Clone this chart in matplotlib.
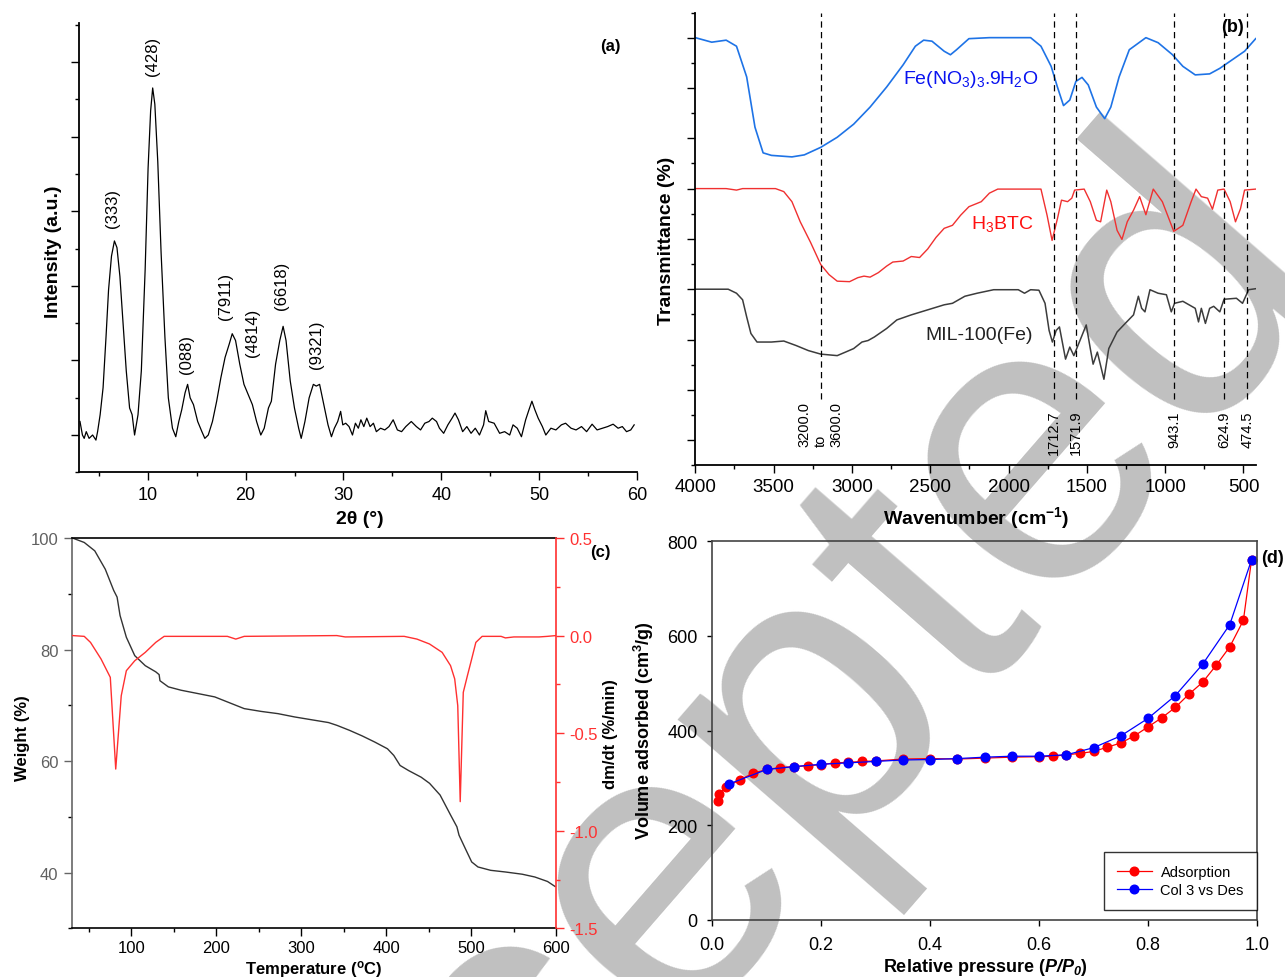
"""Four-panel characterisation figure for MIL-100(Fe): XRD, FTIR, TGA/DTG and N2 isotherm."""

import matplotlib

matplotlib.use("Agg")
import matplotlib.pyplot as plt
from matplotlib.ticker import MultipleLocator, NullFormatter

FIG_W, FIG_H = 1285, 978

# (a) XRD pattern
xrd_two_theta = [
    3.07, 3.32, 3.5, 3.71, 4.0, 4.36, 4.7, 4.87, 5.13, 5.43, 5.73, 5.99, 6.29, 6.59, 6.85,
    7.15, 7.45, 7.8, 8.14, 8.4, 8.65, 9.0, 9.34, 9.73, 10.03, 10.29, 10.5, 10.72, 11.02,
    11.36, 11.75, 12.1, 12.52, 12.86, 13.17, 13.47, 13.81, 14.07, 14.33, 14.67, 15.1, 15.53,
    15.83, 16.18, 16.61, 17.04, 17.47, 17.9, 18.33, 18.63, 18.97, 19.4, 19.83, 20.26, 20.69,
    21.12, 21.55, 21.9, 22.33, 22.63, 23.06, 23.49, 23.83, 24.13, 24.56, 24.99, 25.42, 25.68,
    26.06, 26.49, 26.92, 27.22, 27.56, 27.99, 28.42, 28.77, 29.07, 29.41, 29.71, 29.93, 30.23,
    30.57, 30.92, 31.22, 31.52, 31.78, 32.08, 32.38, 32.72, 33.06, 33.36, 33.79, 34.22, 34.65,
    35.08, 35.51, 35.94, 36.37, 36.93, 37.45, 37.88, 38.31, 38.74, 39.08, 39.51, 39.81, 40.24,
    40.67, 41.1, 41.4, 41.75, 42.18, 42.61, 43.04, 43.47, 43.9, 44.32, 44.54, 44.84, 45.4,
    45.96, 46.47, 46.99, 47.33, 47.76, 48.19, 48.62, 48.96, 49.26, 49.56, 49.9, 50.33, 50.68,
    51.2, 51.71, 52.27, 52.7, 53.26, 53.77, 54.33, 54.85, 55.41, 55.92, 56.48, 57.0, 57.56,
    58.07, 58.5, 58.93, 59.36, 59.71,
]
xrd_intensity = [
    181, 0, -45, 45, -45, 0, -68, 45, 272, 634, 1313, 1946, 2399, 2602, 2512,
    2127, 1539, 860, 362, 272, 0, 272, 860, 2218, 3576, 4345, 4653, 4435, 3666,
    2444, 1313, 498, 91, -23, 181, 339, 566, 679, 498, 407, 181, 45,
    -45, 0, 181, 453, 769, 1041, 1222, 1358, 1267, 950, 679, 543, 407,
    181, 0, 91, 362, 453, 950, 1267, 1457, 1267, 724, 362, 91, -45,
    181, 498, 679, 656, 679, 407, 136, -23, 91, 181, 317, 136, 158,
    113, 0, 158, 91, 204, 113, 226, 113, 158, 45, 91, 68, 113,
    204, 68, 45, 113, 181, 113, 68, 158, 181, 226, 181, 91, 23,
    136, 226, 294, 204, 45, 113, 23, 91, 0, 136, 326, 181, 158,
    23, 45, 0, 136, 91, -23, 204, 339, 453, 339, 226, 113, 0,
    91, 68, 136, 158, 91, 68, 113, 45, 145, 68, 91, 113, 145,
    91, 113, 45, 68, 136,
]
xrd_peak_names = ["(333)", "(428)", "(088)", "(7911)", "(4814)", "(6618)", "(9321)"]
xrd_peak_x = [6.42, 10.46, 13.93, 17.9, 20.7, 23.7, 27.2]
xrd_peak_y = [2785, 4833, 837, 1561, 1063, 1688, 905]

# (b) FTIR spectra
fe_wavenumber = [
    4000, 3895, 3803, 3737, 3672, 3619, 3567, 3514, 3383, 3304, 3199, 3094, 2989, 2884, 2778,
    2673, 2595, 2542, 2489, 2411, 2371, 2332, 2253, 2122, 1859, 1793, 1728, 1688, 1649, 1609,
    1570, 1531, 1491, 1439, 1386, 1347, 1294, 1229, 1123, 1045, 953, 887, 808, 716, 651, 572,
    493, 422,
]
fe_transmittance = [
    80.0, 79.1, 79.5, 78.3, 72.2, 62.2, 57.1, 56.6, 56.3, 56.7, 58.2, 60.2, 62.8, 66.2, 70.2,
    74.6, 78.3, 79.5, 79.3, 77.3, 76.6, 77.6, 79.8, 80.0, 80.0, 78.3, 74.3, 70.2, 66.5, 67.6,
    71.3, 72.1, 70.6, 66.2, 63.9, 66.2, 72.2, 77.6, 80.0, 79.0, 76.6, 74.3, 72.6, 72.8, 73.9,
    75.6, 77.3, 79.8,
]
btc_wavenumber = [
    4000, 3803, 3737, 3698, 3488, 3435, 3383, 3330, 3264, 3199, 3146, 3094, 3015, 2962, 2923,
    2884, 2831, 2778, 2739, 2673, 2621, 2568, 2516, 2463, 2411, 2358, 2306, 2253, 2174, 2122,
    2069, 1990, 1793, 1754, 1722, 1688, 1662, 1623, 1596, 1578, 1517, 1478, 1439, 1412, 1373,
    1347, 1307, 1276, 1242, 1202, 1163, 1123, 1076, 1018, 945, 887, 834, 803, 769, 729, 698,
    664, 624, 585, 551, 519, 493, 422,
]
btc_transmittance = [
    50.0, 50.0, 49.7, 50.0, 50.0, 49.4, 47.4, 43.4, 39.3, 34.9, 32.9, 31.6, 31.5, 32.3, 32.6,
    32.4, 33.3, 34.6, 35.4, 35.6, 36.5, 36.3, 38.0, 40.3, 42.1, 42.7, 44.7, 46.4, 47.4, 49.1,
    49.9, 49.9, 49.9, 44.7, 39.7, 44.0, 47.7, 47.4, 48.1, 49.7, 49.9, 47.4, 43.7, 43.4, 49.7,
    47.4, 41.7, 39.9, 43.4, 45.7, 48.4, 44.8, 49.9, 47.4, 41.5, 42.7, 47.4, 49.9, 48.4, 48.1,
    45.9, 49.7, 49.9, 47.4, 43.4, 46.0, 49.7, 49.9,
]
mil_wavenumber = [
    4000, 3790, 3737, 3698, 3672, 3645, 3606, 3514, 3435, 3356, 3278, 3199, 3094, 3041, 2989,
    2936, 2897, 2857, 2778, 2713, 2621, 2516, 2411, 2358, 2279, 2201, 2095, 1938, 1898, 1859,
    1806, 1767, 1741, 1720, 1696, 1675, 1636, 1609, 1583, 1544, 1504, 1478, 1460, 1433, 1412,
    1391, 1360, 1307, 1255, 1202, 1171, 1150, 1129, 1097, 1045, 992, 961, 940, 887, 808, 787,
    769, 743, 716, 690, 651, 624, 545, 506, 467, 422,
]
mil_transmittance = [
    30.0, 30.0, 29.2, 27.9, 24.5, 21.2, 19.5, 19.5, 19.7, 18.8, 17.8, 17.1, 16.8, 17.5, 18.2,
    19.5, 19.8, 20.5, 22.2, 23.9, 24.9, 25.9, 26.9, 27.2, 28.6, 29.2, 29.9, 29.9, 29.2, 29.9,
    29.8, 27.2, 21.8, 19.5, 21.8, 22.5, 16.1, 18.5, 16.8, 19.8, 22.9, 18.2, 15.1, 17.5, 14.8,
    12.1, 18.2, 21.5, 23.2, 24.9, 28.6, 26.2, 25.5, 29.9, 29.2, 28.9, 25.5, 27.2, 27.6, 26.2,
    23.5, 26.2, 23.2, 26.2, 26.6, 25.5, 28.0, 28.2, 27.2, 29.9, 30.1,
]
band_positions = [3200.0, 1712.7, 1571.9, 943.1, 624.9, 474.5]
band_labels = ["3200.0\nto\n3600.0", "1712.7", "1571.9", "943.1", "624.9", "474.5"]
band_label_y = [-1.15, -2.7, -2.7, -1.35, -1.35, -1.35]
band_line_bottom = 8.2

# (c) TGA / DTG
tga_temperature = [
    30.5, 44.4, 56.8, 69.2, 79.1, 83.1, 86.6, 94, 103.9, 116.3, 128.6, 132.6, 133.6, 143.5,
    158.4, 178.3, 198.1, 213, 232.8, 252.7, 272.5, 292.4, 312.2, 332.1, 342, 356.9, 371.8,
    386.6, 401.5, 409, 416.4, 426.3, 441.2, 451.1, 463.5, 475.9, 483.3, 485.8, 493.2, 500.7,
    508.1, 523, 540.4, 560.2, 575.1, 590, 598.9,
]
tga_weight = [
    100, 99.2, 97.7, 94.4, 90.6, 89.4, 86.1, 82.2, 78.9, 77.1, 76.0, 75.5, 74.4, 73.3,
    72.7, 72.1, 71.5, 70.6, 69.4, 68.9, 68.5, 67.9, 67.4, 66.9, 66.4, 65.5, 64.5,
    63.4, 62.2, 61.0, 59.2, 58.3, 57.1, 56.0, 53.9, 50.3, 48.2, 46.7, 44.3, 41.9,
    41.0, 40.4, 40.1, 39.7, 39.2, 38.4, 37.5,
]
dtg_temperature = [
    30.5, 44.4, 51.8, 64.2, 75.1, 81.5, 88, 94, 103.9, 116.3, 128.6, 138.5, 153.5, 213,
    222.9, 232.8, 341.9, 351.8, 421.2, 436.2, 451, 465.9, 475.8, 480.7, 484.3, 487.2, 490.8,
    495.7, 500.7, 505.6, 513, 535.3, 540.4, 550.3, 580, 589.9, 600,
]
dtg_rate = [
    0.0, -0.004, -0.035, -0.12, -0.214, -0.684, -0.308, -0.18, -0.129, -0.086, -0.035,
    -0.004, -0.004, -0.004, -0.018, -0.004, 0.0, -0.007, -0.004, -0.018, -0.043, -0.086,
    -0.154, -0.222, -0.359, -0.851, -0.291, -0.205, -0.12, -0.035, -0.004, -0.004, -0.012,
    -0.007, -0.007, -0.004, 0.0,
]

# (d) N2 isotherm
ads_pressure = [
    0.01, 0.012, 0.025, 0.05, 0.075, 0.1, 0.125, 0.15, 0.175, 0.2, 0.225, 0.25, 0.275, 0.3,
    0.35, 0.4, 0.45, 0.5, 0.55, 0.6, 0.625, 0.65, 0.675, 0.7, 0.725, 0.75, 0.775, 0.8, 0.825,
    0.85, 0.875, 0.9, 0.925, 0.95, 0.975, 0.99,
]
ads_volume = [
    252, 266, 280, 296, 310, 318, 322, 324, 326, 328, 332, 333, 335, 336,
    340, 341, 340, 342, 344, 345, 346, 349, 352, 356, 365, 374, 389, 408, 427,
    449, 477, 502, 538, 577, 633, 761,
]
des_pressure = [
    0.03, 0.1, 0.15, 0.2, 0.25, 0.3, 0.35, 0.4, 0.45, 0.5, 0.55, 0.6, 0.65, 0.7, 0.75, 0.8,
    0.85, 0.9, 0.95, 0.99,
]
des_volume = [
    287, 318, 324, 329, 332, 335, 338, 339, 341, 344, 346, 346, 349, 364, 389, 426,
    474, 540, 624, 761,
]


def setup_fonts() -> bool:
    """Arial-like text everywhere; returns True when bold-italic mathtext is available."""

    plt.rcParams["font.family"] = ["Liberation Sans", "DejaVu Sans"]
    plt.rcParams["mathtext.fontset"] = "custom"
    plt.rcParams["mathtext.rm"] = "Liberation Sans"
    plt.rcParams["mathtext.it"] = "Liberation Sans:italic"
    plt.rcParams["mathtext.bf"] = "Liberation Sans:bold"
    plt.rcParams["axes.unicode_minus"] = False
    if "mathtext.bfit" in plt.rcParams:
        plt.rcParams["mathtext.bfit"] = "Liberation Sans:italic:bold"
        return True
    return False


def px_axes(fig, left, top, right, bottom):
    """Add axes from pixel edges measured on the reference."""

    ax = fig.add_axes([left / FIG_W, 1 - bottom / FIG_H, (right - left) / FIG_W, (bottom - top) / FIG_H])
    ax.patch.set_visible(False)
    return ax


def fig_text(fig, x, y, text, **kwargs):
    fig.text(x / FIG_W, 1 - y / FIG_H, text, **kwargs)


def draw_xrd(fig, ax):
    ax.plot(xrd_two_theta, xrd_intensity, color="black", lw=0.9)
    ax.set_xlim(3, 60)
    ax.set_ylim(-500, 5520)
    for side in ("top", "right"):
        ax.spines[side].set_visible(False)
    for side in ("left", "bottom"):
        ax.spines[side].set_linewidth(1.3)
    ax.xaxis.set_major_locator(MultipleLocator(10))
    ax.xaxis.set_minor_locator(MultipleLocator(5))
    ax.yaxis.set_major_locator(MultipleLocator(1000))
    ax.yaxis.set_minor_locator(MultipleLocator(500))
    ax.yaxis.set_major_formatter(NullFormatter())
    ax.tick_params(which="major", direction="out", length=5.8, width=1, labelsize=13, pad=3.8)
    ax.tick_params(which="minor", direction="out", length=2.9, width=1)
    for name, x, y in zip(xrd_peak_names, xrd_peak_x, xrd_peak_y):
        ax.text(x, y, name, rotation=90, ha="center", va="bottom", fontsize=12)
    fig_text(fig, 610, 47, "(a)", fontsize=12, fontweight="bold", ha="center", va="center")
    fig_text(fig, 53, 252, "Intensity (a.u.)", fontsize=14, fontweight="bold",
             rotation=90, ha="center", va="center")
    fig_text(fig, 360, 519, "2θ (°)", fontsize=14, fontweight="bold", ha="center", va="center")


def draw_ftir(fig, ax):
    ax.plot(fe_wavenumber, fe_transmittance, color="#1e73e6", lw=1.2)
    ax.plot(btc_wavenumber, btc_transmittance, color="#f03030", lw=1.0)
    ax.plot(mil_wavenumber, mil_transmittance, color="#3c3c3c", lw=1.1)
    ax.vlines(band_positions, band_line_bottom, 85, colors="black", linestyles=(0, (5, 3.5)), lw=0.9)
    for pos, label, y in zip(band_positions, band_labels, band_label_y):
        ax.text(pos, y, label, rotation=90, ha="center", va="bottom", multialignment="left",
                fontsize=10.5, linespacing=1.15)
    ax.text(2672, 70.9, r"Fe(NO$_3$)$_3$.9H$_2$O", color="#0a14f0", fontsize=14, va="baseline")
    ax.text(2239, 42.1, r"H$_3$BTC", color="#ff1010", fontsize=14, va="baseline")
    ax.text(2528, 20.2, "MIL-100(Fe)", color="#222222", fontsize=14, va="baseline")
    ax.set_xlim(4000, 420)
    ax.set_ylim(-5, 85)
    for side in ("top", "right"):
        ax.spines[side].set_visible(False)
    for side in ("left", "bottom"):
        ax.spines[side].set_linewidth(1.3)
    ax.xaxis.set_major_locator(MultipleLocator(500))
    ax.xaxis.set_minor_locator(MultipleLocator(250))
    ax.yaxis.set_major_locator(MultipleLocator(10))
    ax.yaxis.set_minor_locator(MultipleLocator(5))
    ax.yaxis.set_major_formatter(NullFormatter())
    ax.tick_params(which="major", direction="out", length=5.6, width=1, labelsize=13.5, pad=3.6)
    ax.tick_params(which="minor", direction="out", length=2.6, width=1)
    fig_text(fig, 1233, 28, "(b)", fontsize=13, fontweight="bold", ha="center", va="center")
    fig_text(fig, 666, 241, "Transmittance (%)", fontsize=14, fontweight="bold",
             rotation=90, ha="center", va="center")
    fig_text(fig, 976, 518, r"Wavenumber (cm$^{\mathbf{-1}}$)", fontsize=14, fontweight="bold",
             ha="center", va="center")


def draw_tga(fig, ax):
    ax.plot(tga_temperature, tga_weight, color="#333333", lw=1.0)
    ax.set_xlim(30, 600)
    ax.set_ylim(30, 100)
    ax.xaxis.set_major_locator(MultipleLocator(100))
    ax.xaxis.set_minor_locator(MultipleLocator(50))
    ax.yaxis.set_major_locator(MultipleLocator(20))
    ax.yaxis.set_minor_locator(MultipleLocator(10))
    ax.spines["left"].set_color("#666666")
    ax.spines["right"].set_visible(False)
    for side in ("left", "bottom", "top"):
        ax.spines[side].set_linewidth(1.2)
    ax.tick_params(which="major", direction="out", length=5.5, width=1, labelsize=12)
    ax.tick_params(axis="x", pad=2.7)
    ax.tick_params(axis="y", pad=4.3, colors="#666666", labelcolor="#606060")
    ax.tick_params(which="minor", direction="out", length=2.7, width=1)

    ax2 = ax.twinx()
    ax2.patch.set_visible(False)
    ax2.plot(dtg_temperature, dtg_rate, color="#ff3030", lw=1.0)
    ax2.set_ylim(-1.5, 0.5)
    ax2.yaxis.set_major_locator(MultipleLocator(0.5))
    ax2.yaxis.set_minor_locator(MultipleLocator(0.25))
    for side in ("left", "bottom", "top"):
        ax2.spines[side].set_visible(False)
    ax2.spines["right"].set_color("#ff3030")
    ax2.spines["right"].set_linewidth(1.2)
    ax2.tick_params(which="major", direction="out", length=5.5, width=1, labelsize=12,
                    colors="#ff3030", pad=3.8)
    ax2.tick_params(which="minor", direction="out", length=2.7, width=1, colors="#ff3030")
    fig_text(fig, 600, 553, "(c)", fontsize=12, fontweight="bold", ha="center", va="center")
    fig_text(fig, 23, 738, "Weight (%)", fontsize=12, fontweight="bold",
             rotation=90, ha="center", va="center")
    fig_text(fig, 610, 734, "dm/dt (%/min)", fontsize=12, fontweight="bold",
             rotation=90, ha="center", va="center")
    fig_text(fig, 314, 970, r"Temperature ($^{\mathbf{o}}$C)", fontsize=12, fontweight="bold",
             ha="center", va="center")


def draw_bet(fig, ax, has_bfit):
    ax.plot(ads_pressure, ads_volume, "-o", color="#ff0000", lw=0.9, ms=6.2, label="Adsorption")
    ax.plot(des_pressure, des_volume, "-o", color="#0000ff", lw=0.9, ms=6.2, label="Col 3 vs Des")
    ax.set_xlim(0, 1.0)
    ax.set_ylim(0, 800)
    ax.xaxis.set_major_locator(MultipleLocator(0.2))
    ax.yaxis.set_major_locator(MultipleLocator(200))
    ax.xaxis.set_major_formatter(lambda v, _: f"{v:.1f}")
    for spine in ax.spines.values():
        spine.set_color("#444444")
        spine.set_linewidth(1.2)
    ax.tick_params(axis="x", direction="out", length=4.3, width=1, labelsize=13, pad=6.9)
    ax.tick_params(axis="y", direction="out", length=3.6, width=1, labelsize=13, pad=7)
    legend = ax.legend(loc="lower right", bbox_to_anchor=(1.0, 0.027), borderaxespad=0,
                       fontsize=10.5, frameon=True, fancybox=False, handlelength=2.4,
                       borderpad=0.9, labelspacing=0.25, handletextpad=0.6)
    legend.get_frame().set_edgecolor("black")
    legend.get_frame().set_linewidth(1.0)
    fig_text(fig, 1273, 559, "(d)", fontsize=13, fontweight="bold", ha="center", va="center")
    fig_text(fig, 644, 731, r"Volume adsorbed (cm$^{\mathbf{3}}$/g)", fontsize=13,
             fontweight="bold", rotation=90, ha="center", va="center")
    if has_bfit:
        xlabel = r"Relative pressure ($\mathbfit{P/P_0}$)"
    else:
        xlabel = r"Relative pressure (P/P$_{\mathbf{0}}$)"
    fig_text(fig, 985, 968, xlabel, fontsize=13, fontweight="bold", ha="center", va="center")


def main() -> None:
    has_bfit = setup_fonts()
    fig = plt.figure(figsize=(FIG_W / 100, FIG_H / 100), dpi=100, facecolor="white")

    # grey "Accepted" stamp sits behind the data
    fig.text(707 / FIG_W, 1 - 853 / FIG_H, "Accepted", fontsize=292, rotation=49,
             rotation_mode="anchor", ha="center", va="center", color="#c0c0c0", zorder=-5)

    draw_xrd(fig, px_axes(fig, 79.3, 24.3, 637, 473.3))
    draw_ftir(fig, px_axes(fig, 695.3, 13.5, 1256, 466.3))
    draw_tga(fig, px_axes(fig, 72, 539, 556, 929.3))
    draw_bet(fig, px_axes(fig, 712.3, 542.3, 1257, 921), has_bfit)
    fig.savefig("out.png", dpi=100)


if __name__ == "__main__":
    main()
